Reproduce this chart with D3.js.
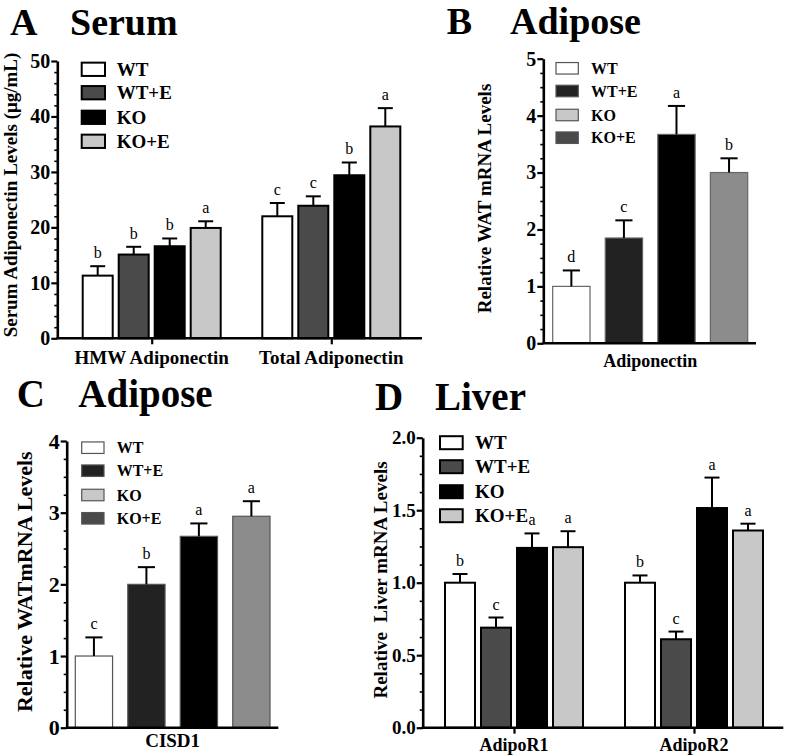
<!DOCTYPE html>
<html><head><meta charset="utf-8">
<script src="https://cdn.jsdelivr.net/npm/d3@7"></script>
<style>
html,body{margin:0;padding:0;background:#fff;}
svg{display:block;font-family:"Liberation Serif","Times New Roman",serif;}
</style></head>
<body><svg id="chart" width="787" height="756"></svg>
<script>
// ---------- DATA ----------
const seriesNames = ["WT", "WT+E", "KO", "KO+E"];

const groupsA = ["HMW Adiponectin", "Total Adiponectin"];
const meansA = [[11.3, 15.1, 16.6, 19.9], [22.0, 23.9, 29.4, 38.2]];
const semsA = [[1.7, 1.4, 1.4, 1.2], [2.4, 1.7, 2.3, 3.3]];
const lettersA = [["b", "b", "b", "a"], ["c", "c", "b", "a"]];
const ticksA = [0, 10, 20, 30, 40, 50];

const groupsB = ["Adiponectin"];
const meansB = [[1.0, 1.85, 3.67, 3.0]];
const semsB = [[0.28, 0.31, 0.50, 0.25]];
const lettersB = [["d", "c", "a", "b"]];
const ticksB = [0, 1, 2, 3, 4, 5];

const groupsC = ["CISD1"];
const meansC = [[1.0, 2.0, 2.67, 2.95]];
const semsC = [[0.26, 0.24, 0.18, 0.21]];
const lettersC = [["c", "b", "a", "a"]];
const ticksC = [0, 1, 2, 3, 4];

const groupsD = ["AdipoR1", "AdipoR2"];
const meansD = [[1.0, 0.69, 1.24, 1.245], [1.0, 0.61, 1.515, 1.36]];
const semsD = [[0.06, 0.07, 0.10, 0.11], [0.05, 0.053, 0.21, 0.047]];
const lettersD = [["b", "c", "a", "a"], ["b", "c", "a", "a"]];
const ticksD = [0, 0.5, 1.0, 1.5, 2.0];

// ---------- DRAW ----------
const svg = d3.select("#chart");

function drawPanel(c) {
  const g = svg.append("g");
  const y = d3.scaleLinear().domain([0, c.ticks[c.ticks.length - 1]]).range([c.y0, c.yTop]);
  const xg = d3.scaleBand().domain(c.groups).range([c.gx0, c.gx1]).paddingInner(c.gPad).paddingOuter(0);
  const xs = d3.scaleBand().domain(seriesNames).range([0, xg.bandwidth()]).paddingInner(c.sPad).paddingOuter(0);

  // title
  g.append("text").attr("x", c.tx1).attr("y", c.ty).attr("font-size", c.tSize).attr("font-weight", "bold").text(c.letter);
  g.append("text").attr("x", c.tx2).attr("y", c.ty).attr("font-size", c.tSize).attr("font-weight", "bold").text(c.title);

  // minor ticks
  const minor = [];
  for (let i = 0; i < c.ticks.length - 1; i++) {
    const a = c.ticks[i], b = c.ticks[i + 1];
    for (let k = 1; k <= c.nMinor; k++) minor.push(a + (b - a) * k / (c.nMinor + 1));
  }
  const minAx = g.append("g").attr("transform", `translate(${c.ax},0)`)
    .call(d3.axisLeft(y).tickValues(minor).tickSize(3).tickSizeOuter(0).tickFormat(""));
  minAx.select(".domain").remove();
  minAx.selectAll("line").attr("stroke", "#000").attr("stroke-width", 1.6);

  // major y axis
  const yAx = g.append("g").attr("transform", `translate(${c.ax},0)`)
    .call(d3.axisLeft(y).tickValues(c.ticks).tickSize(6).tickSizeOuter(0).tickPadding(1).tickFormat(c.fmt));
  yAx.select(".domain").attr("stroke", "#000").attr("stroke-width", 2.6);
  yAx.selectAll(".tick line").attr("stroke", "#000").attr("stroke-width", 2.2);
  yAx.selectAll("text").attr("font-family", "Liberation Serif, serif").attr("font-size", c.tickSize)
    .attr("font-weight", "bold").attr("fill", "#000");

  // y label
  g.append("text").attr("transform", `translate(${c.ylx},${c.yly}) rotate(-90)`)
    .attr("text-anchor", "middle").attr("font-size", c.ylSize).attr("font-weight", "bold")
    .style("white-space", "pre").text(c.ylabel);

  // bars
  c.groups.forEach((grp, gi) => {
    const gx = xg(grp);
    seriesNames.forEach((s, si) => {
      const m = c.means[gi][si], e = c.sems[gi][si];
      const bx = gx + xs(s), bw = xs.bandwidth(), cx = bx + bw / 2;
      g.append("rect").attr("x", bx).attr("y", y(m)).attr("width", bw).attr("height", y(0) - y(m))
        .attr("fill", c.fills[si]).attr("stroke", c.barStroke).attr("stroke-width", c.barSW);
      g.append("line").attr("x1", cx).attr("x2", cx).attr("y1", y(m)).attr("y2", y(m + e))
        .attr("stroke", "#000").attr("stroke-width", 2);
      g.append("line").attr("x1", cx - bw * c.capFrac / 2).attr("x2", cx + bw * c.capFrac / 2)
        .attr("y1", y(m + e)).attr("y2", y(m + e)).attr("stroke", "#000").attr("stroke-width", 2);
      g.append("text").attr("x", cx).attr("y", y(m + e) - 8).attr("text-anchor", "middle")
        .attr("font-size", 16).text(c.letters[gi][si]);
    });
  });

  // x axis line
  g.append("line").attr("x1", c.ax - 1).attr("x2", c.axEnd).attr("y1", y(0)).attr("y2", y(0))
    .attr("stroke", "#000").attr("stroke-width", 2.6);
  const centers = c.groups.map(grp => xg(grp) + xg.bandwidth() / 2);
  const xAx = g.append("g").attr("transform", `translate(0,${y(0)})`)
    .call(d3.axisBottom(d3.scalePoint().domain(c.groups).range([centers[0], centers[centers.length - 1]]))
      .tickSize(c.xTick ? 6 : 0).tickSizeOuter(0).tickFormat(""));
  xAx.select(".domain").remove();
  xAx.selectAll("line").attr("stroke", "#000").attr("stroke-width", 2.2);
  c.groups.forEach((grp, gi) => {
    g.append("text").attr("x", centers[gi]).attr("y", c.xly).attr("text-anchor", "middle")
      .attr("font-size", c.xlSize).attr("font-weight", "bold").text(grp);
  });

  // legend
  seriesNames.forEach((s, si) => {
    const cy = c.legY[si];
    g.append("rect").attr("x", c.legX).attr("y", cy - c.legH / 2).attr("width", c.legW).attr("height", c.legH)
      .attr("fill", c.legFills[si]).attr("stroke", c.legStroke).attr("stroke-width", c.legSW);
    g.append("text").attr("x", c.legTX).attr("y", cy).attr("dy", "0.35em").attr("font-size", c.legSize)
      .attr("font-weight", "bold").text(s);
  });
}

const fmtInt = d3.format("d"), fmt1 = d3.format(".1f");

drawPanel({
  letter: "A", title: "Serum", tx1: 10, tx2: 70, ty: 34.5, tSize: 38,
  groups: groupsA, means: meansA, sems: semsA, letters: lettersA, ticks: ticksA, fmt: fmtInt, nMinor: 4,
  y0: 338.3, yTop: 61, ax: 57.3, axEnd: 422, gx0: 82.7, gx1: 400.3, gPad: 0.2316, sPad: 0.1667,
  fills: ["#ffffff", "#4a4a4a", "#000000", "#c8c8c8"], barStroke: "#000", barSW: 2, capFrac: 0.5,
  tickSize: 20, ylabel: "Serum Adiponectin Levels (\u03BCg/mL)", ylx: 17, yly: 195, ylSize: 19,
  xly: 364, xlSize: 19, xTick: true,
  legX: 81.7, legW: 23.3, legH: 13.3, legY: [69.3, 92.7, 117.3, 141.3], legTX: 116.7, legSize: 19,
  legFills: ["#ffffff", "#4a4a4a", "#000000", "#c8c8c8"], legStroke: "#000", legSW: 2
});

drawPanel({
  letter: "B", title: "Adipose", tx1: 446.7, tx2: 510, ty: 34, tSize: 38,
  groups: groupsB, means: meansB, sems: semsB, letters: lettersB, ticks: ticksB, fmt: fmtInt, nMinor: 3,
  y0: 343.3, yTop: 58.7, ax: 543.3, axEnd: 756, gx0: 552.7, gx1: 747.7, gPad: 0, sPad: 0.29,
  fills: ["#ffffff", "#222222", "#000000", "#8c8c8c"], barStroke: "#666", barSW: 1.2, capFrac: 0.46,
  tickSize: 20, ylabel: "Relative WAT mRNA Levels", ylx: 491, yly: 198.5, ylSize: 19,
  xly: 366.7, xlSize: 18, xTick: false,
  legX: 556, legW: 22.3, legH: 11.5, legY: [68.3, 91, 115, 137.7], legTX: 591, legSize: 16,
  legFills: ["#ffffff", "#222222", "#c8c8c8", "#4a4a4a"], legStroke: "#555", legSW: 1.2
});

drawPanel({
  letter: "C", title: "Adipose", tx1: 16.7, tx2: 78.3, ty: 407, tSize: 39,
  groups: groupsC, means: meansC, sems: semsC, letters: lettersC, ticks: ticksC, fmt: fmtInt, nMinor: 3,
  y0: 727.7, yTop: 441, ax: 66.7, axEnd: 278.3, gx0: 75.3, gx1: 270, gPad: 0, sPad: 0.29,
  fills: ["#ffffff", "#222222", "#000000", "#8c8c8c"], barStroke: "#555", barSW: 1.2, capFrac: 0.46,
  tickSize: 22, ylabel: "Relative WATmRNA Levels", ylx: 32, yly: 581.7, ylSize: 22,
  xly: 746.7, xlSize: 19, xTick: false,
  legX: 81.7, legW: 22.3, legH: 11.5, legY: [447.7, 470.7, 495, 518.3], legTX: 116.7, legSize: 16,
  legFills: ["#ffffff", "#222222", "#c8c8c8", "#4a4a4a"], legStroke: "#555", legSW: 1.2
});

drawPanel({
  letter: "D", title: "Liver", tx1: 375, tx2: 435, ty: 410, tSize: 39,
  groups: groupsD, means: meansD, sems: semsD, letters: lettersD, ticks: ticksD, fmt: fmt1, nMinor: 3,
  y0: 727.7, yTop: 437.7, ax: 422.7, axEnd: 783.3, gx0: 445, gx1: 763, gPad: 0.2333, sPad: 0.1667,
  fills: ["#ffffff", "#4a4a4a", "#000000", "#c8c8c8"], barStroke: "#000", barSW: 2, capFrac: 0.5,
  tickSize: 19, ylabel: "Relative  Liver mRNA Levels", ylx: 387, yly: 580, ylSize: 19,
  xly: 750.5, xlSize: 18, xTick: true,
  legX: 440, legW: 22.7, legH: 13, legY: [442.7, 466.7, 491.7, 515.7], legTX: 475, legSize: 19,
  legFills: ["#ffffff", "#4a4a4a", "#000000", "#c8c8c8"], legStroke: "#000", legSW: 2
});
</script>
</body></html>
